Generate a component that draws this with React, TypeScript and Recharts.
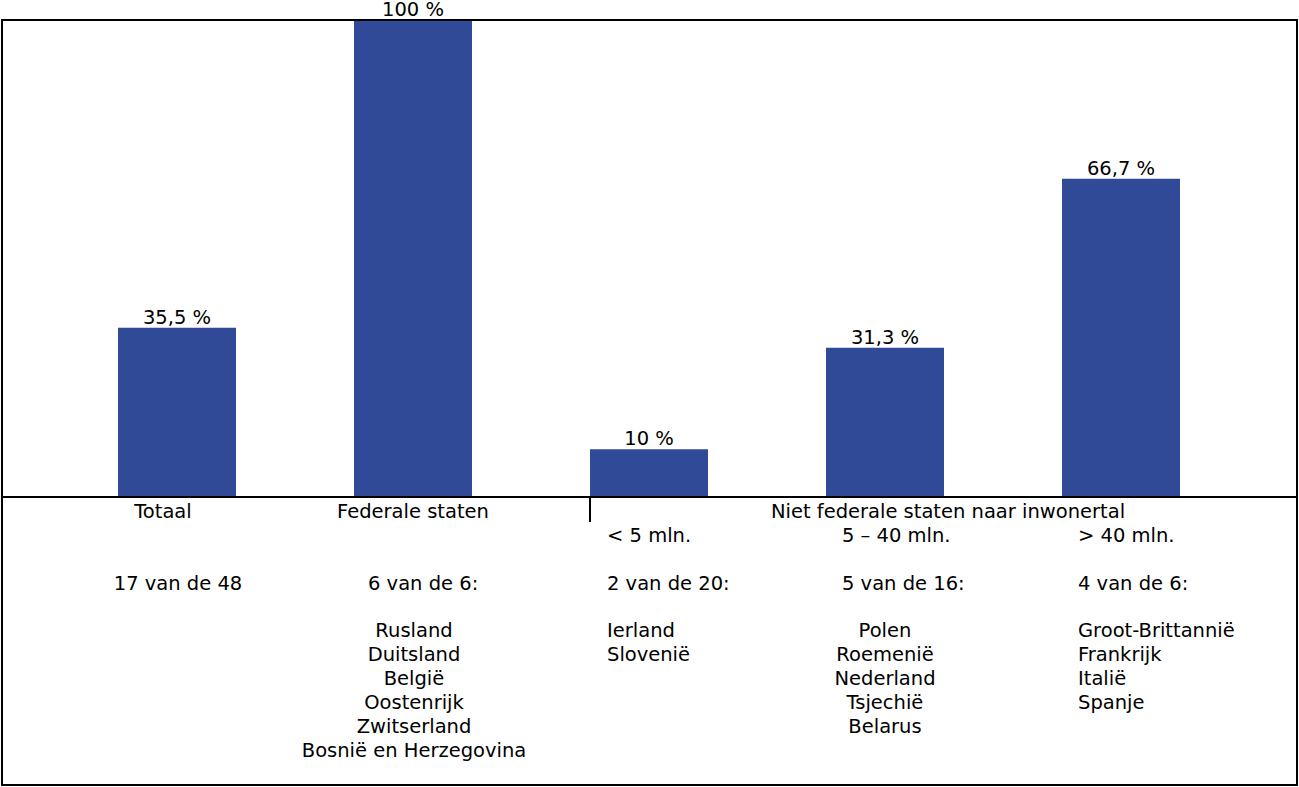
import React from "react";
import { BarChart, Bar, XAxis, YAxis, LabelList } from "recharts";

// ---- data ----
const categories = ["Totaal", "Federale staten", "< 5 mln.", "5 – 40 mln.", "> 40 mln."];
const percentages = [35.5, 100, 10, 31.3, 66.7];
const valueLabels = ["35,5 %", "100 %", "10 %", "31,3 %", "66,7 %"];
const groupHeader = "Niet federale staten naar inwonertal";
const counts = ["17 van de 48", "6 van de 6:", "2 van de 20:", "5 van de 16:", "4 van de 6:"];
const countriesFederal = ["Rusland", "Duitsland", "België", "Oostenrijk", "Zwitserland", "Bosnië en Herzegovina"];
const countriesSmall = ["Ierland", "Slovenië"];
const countriesMedium = ["Polen", "Roemenië", "Nederland", "Tsjechië", "Belarus"];
const countriesLarge = ["Groot-Brittannië", "Frankrijk", "Italië", "Spanje"];
const countriesByCategory = [[], countriesFederal, countriesSmall, countriesMedium, countriesLarge];

const data = categories.map((c, i) => ({
  name: c,
  value: percentages[i],
  label: valueLabels[i],
}));

// ---- style ----
const W = 1299;
const H = 787;
const AXIS_H = 30;
const M = { top: 20, right: 2, bottom: 290 - AXIS_H, left: 2 };
const AXIS_Y = 497;
const FONT = "'DejaVu Sans', Verdana, sans-serif";
const FS = 19.5;
const BAR = "#314A98";

type Spec = {
  titleDx: number; titleAnchor: "middle" | "start"; titleRow: number;
  countDx: number; countAnchor: "middle" | "start";
  listDx: number; listAnchor: "middle" | "start";
};
const specs: Spec[] = [
  { titleDx: -14, titleAnchor: "middle", titleRow: 0, countDx: 1, countAnchor: "middle", listDx: 0, listAnchor: "middle" },
  { titleDx: 0, titleAnchor: "middle", titleRow: 0, countDx: -45, countAnchor: "start", listDx: 1, listAnchor: "middle" },
  { titleDx: -42, titleAnchor: "start", titleRow: 1, countDx: -42, countAnchor: "start", listDx: -42, listAnchor: "start" },
  { titleDx: -43, titleAnchor: "start", titleRow: 1, countDx: -43, countAnchor: "start", listDx: 0, listAnchor: "middle" },
  { titleDx: -43, titleAnchor: "start", titleRow: 1, countDx: -43, countAnchor: "start", listDx: -43, listAnchor: "start" },
];

const ROW0 = AXIS_Y + 21;
const ROW1 = AXIS_Y + 45;
const ROW_COUNT = AXIS_Y + 93;
const ROW_LIST = AXIS_Y + 140;
const LINE = 24;

const Tick = (props: any) => {
  const { x, payload } = props;
  const i = payload.index;
  const s = specs[i];
  const list = countriesByCategory[i];
  const common = { fontFamily: FONT, fontSize: FS, fill: "#000" };
  return (
    <g>
      <text x={x + s.titleDx} y={s.titleRow === 0 ? ROW0 : ROW1} textAnchor={s.titleAnchor} {...common}>
        {categories[i]}
      </text>
      <text x={x + s.countDx} y={ROW_COUNT} textAnchor={s.countAnchor} {...common}>
        {counts[i]}
      </text>
      {list.map((c, k) => (
        <text key={k} x={x + s.listDx} y={ROW_LIST + k * LINE} textAnchor={s.listAnchor} {...common}>
          {c}
        </text>
      ))}
      {i === 2 && (
        <line x1={x - 59} x2={x - 59} y1={AXIS_Y} y2={AXIS_Y + 25} stroke="#000" strokeWidth={2} />
      )}
      {i === 3 && (
        <text x={x + 63} y={ROW0} textAnchor="middle" {...common}>
          {groupHeader}
        </text>
      )}
    </g>
  );
};

export default function App() {
  return (
    <div style={{ position: "absolute", left: 0, top: 0, width: W, height: H, background: "#fff" }}>
      <BarChart width={W} height={H} data={data} margin={M} barCategoryGap="25%">
        <YAxis hide domain={[0, 100]} type="number" />
        <XAxis
          dataKey="name"
          height={AXIS_H}
          interval={0}
          tickLine={false}
          axisLine={{ stroke: "#000", strokeWidth: 2 }}
          padding={{ left: 57, right: 58 }}
          tick={<Tick />}
        />
        <Bar dataKey="value" fill={BAR} isAnimationActive={false}>
          <LabelList dataKey="label" position="top" offset={4} fill="#000" fontSize={FS} fontFamily={FONT} />
        </Bar>
      </BarChart>
      <div
        style={{
          position: "absolute",
          left: 1,
          top: 19,
          width: 1297,
          height: 767,
          border: "2px solid #000",
          boxSizing: "border-box",
          pointerEvents: "none",
        }}
      />
    </div>
  );
}
